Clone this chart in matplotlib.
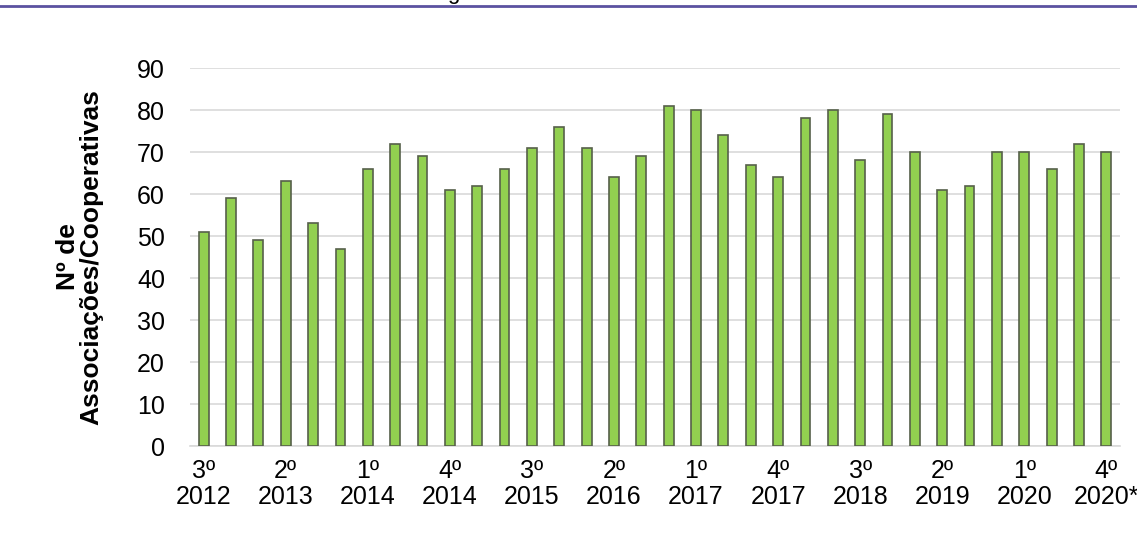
import matplotlib
matplotlib.use("Agg")
import matplotlib.pyplot as plt
from matplotlib.lines import Line2D

values = [51, 59, 49, 63, 53, 47, 66, 72, 69, 61, 62, 66, 71, 76, 71, 64, 69,
          81, 80, 74, 67, 64, 78, 80, 68, 79, 70, 61, 62, 70, 70, 66, 72, 70]
tick_pos = [0, 3, 6, 9, 12, 15, 18, 21, 24, 27, 30, 33]
tick_labels = ["3º\n2012", "2º\n2013", "1º\n2014", "4º\n2014", "3º\n2015", "2º\n2016",
               "1º\n2017", "4º\n2017", "3º\n2018", "2º\n2019", "1º\n2020", "4º\n2020*"]
ylabel = "Nº de\nAssociações/Cooperativas"

plt.rcParams['font.family'] = ['Liberation Sans', 'DejaVu Sans']

fig = plt.figure(figsize=(11.37, 5.45), dpi=100)
ax = fig.add_axes([190/1137, (545-446)/545, (1120-190)/1137, (446-68)/545])

x = list(range(len(values)))
ax.bar(x, values, width=0.36, color="#92d050", edgecolor="#56604a", linewidth=1.2, zorder=3)

ax.set_xlim(-0.5, len(values) - 0.5)
ax.set_ylim(0, 90)
ax.set_yticks(range(0, 91, 10))
ax.yaxis.grid(True, color="#d9d9d9", linewidth=1.2, zorder=0)
ax.set_axisbelow(True)
for s in ["top", "right", "left"]:
    ax.spines[s].set_visible(False)
ax.spines["bottom"].set_color("#d9d9d9")
ax.spines["bottom"].set_linewidth(1.2)
ax.set_xticks(tick_pos)
ax.set_xticklabels(tick_labels, fontsize=18, linespacing=1.15)
ax.tick_params(axis="both", length=0, labelsize=18)
ax.tick_params(axis="y", pad=18)
ax.tick_params(axis="x", pad=9)
ax.set_ylabel(ylabel, fontsize=19, fontweight="bold", labelpad=24, linespacing=1.0)

fig.add_artist(Line2D([0, 1], [1 - 6/545, 1 - 6/545], color="#5b52a0", linewidth=2.0,
                      transform=fig.transFigure))
fig.text(453/1137, 1.0 + 1/545, "g", fontsize=16, va="baseline", ha="center")

fig.savefig("out.png", dpi=100, facecolor="white")
